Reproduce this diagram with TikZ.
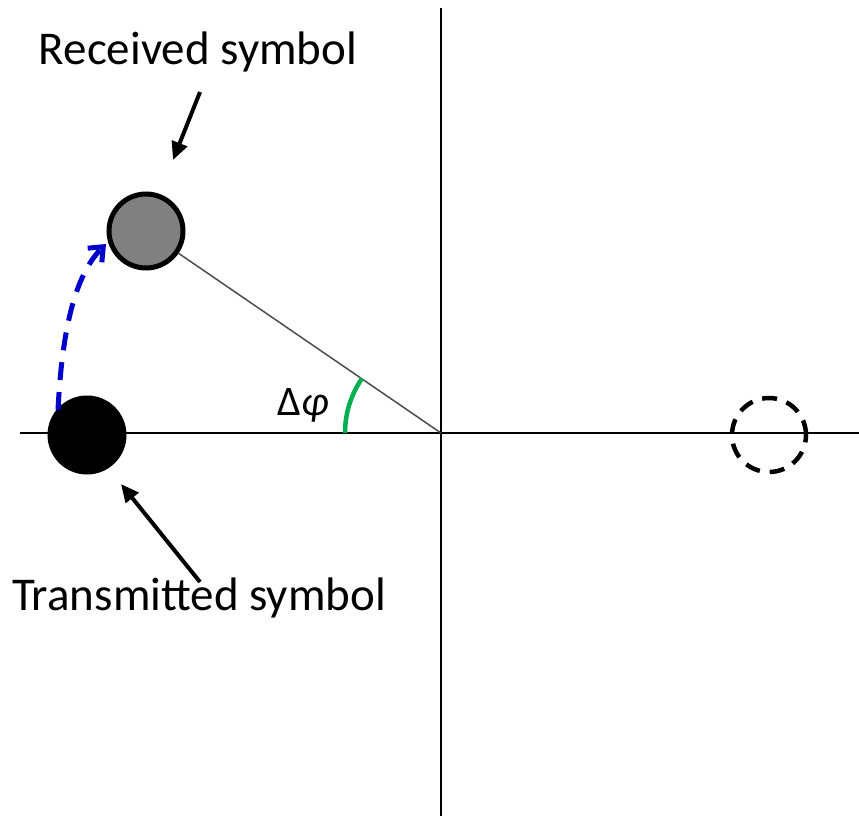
\documentclass[tikz,border=0pt]{standalone}
\usepackage{fontspec}
\setmainfont{Carlito}
\usetikzlibrary{arrows.meta}
\definecolor{symgray}{RGB}{128,128,128}
\definecolor{arcgreen}{RGB}{0,176,80}
\definecolor{pathblue}{RGB}{0,0,204}
\begin{document}
\begin{tikzpicture}[x=1pt,y=-1pt,
  axis/.style={line width=2.4pt,black},
  symb/.style={circle,minimum size=74pt,inner sep=0pt,line width=5pt},
  pointer/.style={line width=4pt,-{Triangle[length=18pt,width=16pt]}},
  lbl/.style={font=\fontsize{47}{52}\selectfont,inner sep=0pt}]
\useasboundingbox (0,0) rectangle (859,816);
\coordinate (O) at (441,433);
\coordinate (xl) at (20,433);
\coordinate (xr) at (859,433);
\coordinate (yt) at (441,8);
\coordinate (yb) at (441,816);
\draw[axis] (xl) -- (xr);
\draw[axis] (yt) -- (yb);
\node[symb,draw=black,fill=black] (tx) at (87,435) {};
\node[symb,draw=black,fill=symgray] (rx) at (146,231) {};
\node[symb,draw=black,line width=4.5pt,dash pattern=on 15pt off 10pt] (gh) at (769,435) {};
\draw[line width=1.5pt,black!70] (rx) -- (O);
\draw[arcgreen,line width=4.5pt] ([shift={(180:96)}]O) arc[start angle=180,end angle=214.6,radius=96];
\node[inner sep=0pt,font=\fontsize{42}{46}\selectfont] (dphi) at (303,405) {Δ\textit{φ}};
\coordinate (bs) at (58,410);
\coordinate (be) at (106,244);
\draw[pathblue,line width=5pt,dash pattern=on 18pt off 12pt,-{Straight Barb[length=12pt,width=20pt,line width=5pt]}]
  (bs) .. controls (62,330) and (75,275) .. (be);
\node[lbl] (rl) at (198,52) {Received symbol};
\node[lbl] (tl) at (199,598) {Transmitted symbol};
\coordinate (ra) at (200,92);
\coordinate (rb) at (173,160);
\coordinate (ta) at (200,582);
\coordinate (tb) at (121,484);
\draw[pointer] (ra) -- (rb);
\draw[pointer] (ta) -- (tb);
\end{tikzpicture}
\end{document}
